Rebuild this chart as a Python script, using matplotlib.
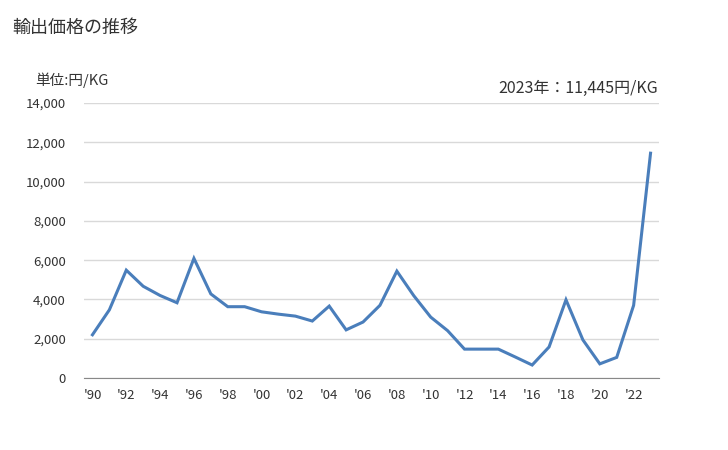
import matplotlib.pyplot as plt

plt.rcParams['font.family'] = ['Noto Sans CJK JP', 'DejaVu Sans']

# Data
years = list(range(1990, 2024))
prices = [2200, 3470, 5490, 4670, 4200, 3830, 6090, 4280, 3630, 3630,
          3370, 3250, 3150, 2900, 3660, 2450, 2850, 3700, 5440, 4190,
          3100, 2410, 1470, 1470, 1470, 1070, 660, 1580, 3980, 1940,
          720, 1050, 3700, 11445]
tick_labels = ["'%02d" % (y % 100) for y in years]

fig = plt.figure(figsize=(7.28, 4.5), dpi=100)
ax = fig.add_axes([84 / 728, 1 - 378 / 450, 575 / 728, 275 / 450])

x = list(range(len(years)))
ax.plot(x, prices, color='#4a7ebb', linewidth=2.2, solid_joinstyle='miter')

ax.set_xlim(-0.5, len(years) - 0.5)
ax.set_ylim(0, 14000)
ax.set_yticks(range(0, 14001, 2000))
ax.set_yticklabels(['{:,}'.format(v) for v in range(0, 14001, 2000)], fontsize=9.5)
ax.set_xticks(x[::2])
ax.set_xticklabels(tick_labels[::2], fontsize=9.5)

ax.grid(axis='y', color='#d9d9d9', linewidth=1)
ax.set_axisbelow(True)
for s in ['top', 'right', 'left']:
    ax.spines[s].set_visible(False)
ax.spines['bottom'].set_color('#888888')
ax.tick_params(axis='both', length=0, colors='#333333')
ax.tick_params(axis='y', pad=13)
ax.tick_params(axis='x', pad=8)

fig.text(12 / 728, 1 - 28 / 450, '輸出価格の推移', fontsize=13, va='center', ha='left', color='#333333')
fig.text(35 / 728, 1 - 80 / 450, '単位:円/KG', fontsize=10.5, va='center', ha='left', color='#333333')
fig.text(658 / 728, 1 - 88 / 450, '2023年：11,445円/KG', fontsize=11.5, va='center', ha='right', color='#333333')

fig.savefig('out.png', dpi=100)
